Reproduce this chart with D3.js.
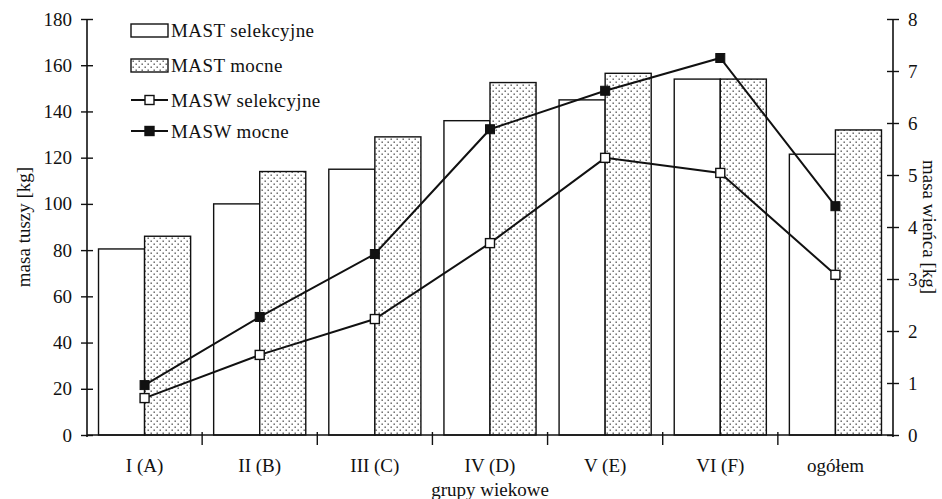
<!DOCTYPE html>
<html><head><meta charset="utf-8">
<script src="https://cdn.jsdelivr.net/npm/d3@7"></script>
<style>
body{margin:0;background:#fff;}
text{font-family:"Liberation Serif","Times New Roman",serif;fill:#111;}
</style></head>
<body>
<svg id="c" width="942" height="499"></svg>
<script>
const categories = ["I (A)","II (B)","III (C)","IV (D)","V (E)","VI (F)","ogółem"];
const mastSelekcyjne = [80.5, 100, 115, 136, 145, 154, 121.5];
const mastMocne = [86, 114, 129, 152.5, 156.5, 154, 132];
const maswSelekcyjne = [0.71, 1.54, 2.23, 3.69, 5.33, 5.04, 3.08];
const maswMocne = [0.96, 2.27, 3.48, 5.88, 6.62, 7.25, 4.40];
const leftTicks = [0,20,40,60,80,100,120,140,160,180];
const rightTicks = [0,1,2,3,4,5,6,7,8];

const svg = d3.select("#c");
const L = 87, R = 893, T = 19, B = 435;
const FS = 19;

const defs = svg.append("defs");
const pat = defs.append("pattern").attr("id","dots").attr("patternUnits","userSpaceOnUse")
  .attr("width",6).attr("height",6);
pat.append("rect").attr("width",6).attr("height",6).attr("fill","#fff");
pat.append("rect").attr("x",0.5).attr("y",0.5).attr("width",1.4).attr("height",1.4).attr("fill","#555");
pat.append("rect").attr("x",3.5).attr("y",3.5).attr("width",1.4).attr("height",1.4).attr("fill","#555");

const x = d3.scaleBand().domain(categories).range([L,R]).padding(0);
const x1 = d3.scaleBand().domain(["sel","moc"]).range([0,x.bandwidth()]).paddingInner(0).paddingOuter(0.25);
const yL = d3.scaleLinear().domain([0,180]).range([B,T]);
const yR = d3.scaleLinear().domain([0,8]).range([B,T]);

// bars
const g = svg.append("g");
categories.forEach((c,i)=>{
  g.append("rect").attr("x",x(c)+x1("sel")).attr("y",yL(mastSelekcyjne[i]))
   .attr("width",x1.bandwidth()).attr("height",B-yL(mastSelekcyjne[i]))
   .attr("fill","#fff").attr("stroke","#111").attr("stroke-width",1.4);
  g.append("rect").attr("x",x(c)+x1("moc")).attr("y",yL(mastMocne[i]))
   .attr("width",x1.bandwidth()).attr("height",B-yL(mastMocne[i]))
   .attr("fill","url(#dots)").attr("stroke","#111").attr("stroke-width",1.4);
});

// left axis
const axL = svg.append("g").attr("transform",`translate(${L},0)`)
  .call(d3.axisLeft(yL).tickValues(leftTicks).tickSize(6).tickPadding(9).tickFormat(d3.format("d")));
axL.attr("font-family",null).attr("font-size",null);
axL.select(".domain").remove();
axL.selectAll(".tick line").attr("x1",-6).attr("x2",6).attr("stroke","#111").attr("stroke-width",1.4);
axL.selectAll(".tick text").style("font-size",FS+"px");
svg.append("line").attr("x1",L).attr("x2",L).attr("y1",T).attr("y2",B+2).attr("stroke","#111").attr("stroke-width",1.6);

// right axis
const axR = svg.append("g").attr("transform",`translate(${R},0)`)
  .call(d3.axisRight(yR).tickValues(rightTicks).tickSize(6).tickPadding(9).tickFormat(d3.format("d")));
axR.attr("font-family",null).attr("font-size",null);
axR.select(".domain").remove();
axR.selectAll(".tick line").attr("x1",-6).attr("x2",6).attr("stroke","#111").attr("stroke-width",1.4);
axR.selectAll(".tick text").style("font-size",FS+"px");
svg.append("line").attr("x1",R).attr("x2",R).attr("y1",T).attr("y2",B+2).attr("stroke","#111").attr("stroke-width",1.6);

// bottom axis
svg.append("line").attr("x1",L).attr("x2",R).attr("y1",B).attr("y2",B).attr("stroke","#111").attr("stroke-width",1.6);
categories.slice(1).forEach(c=>{
  svg.append("line").attr("x1",x(c)).attr("x2",x(c)).attr("y1",B-3).attr("y2",B+10).attr("stroke","#111").attr("stroke-width",1.4);
});
categories.forEach(c=>{
  svg.append("text").attr("x",x(c)+x.bandwidth()/2).attr("y",472).attr("text-anchor","middle")
    .style("font-size",FS+"px").text(c);
});

// lines
const cx = c => x(c)+x.bandwidth()/2;
const line = (ys)=> d3.line().x((d,i)=>cx(categories[i])).y(d=>ys(d));
svg.append("path").datum(maswSelekcyjne).attr("d",line(yR)).attr("fill","none").attr("stroke","#111").attr("stroke-width",2);
svg.append("path").datum(maswMocne).attr("d",line(yR)).attr("fill","none").attr("stroke","#111").attr("stroke-width",2);
const ms = 9;
maswSelekcyjne.forEach((v,i)=>{
  svg.append("rect").attr("x",cx(categories[i])-ms/2).attr("y",yR(v)-ms/2).attr("width",ms).attr("height",ms)
   .attr("fill","#fff").attr("stroke","#111").attr("stroke-width",1.4);
});
maswMocne.forEach((v,i)=>{
  svg.append("rect").attr("x",cx(categories[i])-ms/2).attr("y",yR(v)-ms/2).attr("width",ms).attr("height",ms)
   .attr("fill","#111").attr("stroke","#111").attr("stroke-width",1);
});

// axis titles
svg.append("text").attr("transform",`translate(23,${(T+B)/2}) rotate(-90)`).attr("text-anchor","middle")
  .attr("dy","0.35em").style("font-size",FS+"px").text("masa tuszy [kg]");
svg.append("text").attr("transform",`translate(930,${(T+B)/2}) rotate(90)`).attr("text-anchor","middle")
  .attr("dy","0.35em").style("font-size",FS+"px").text("masa wieńca [kg]");
svg.append("text").attr("x",(L+R)/2).attr("y",496).attr("text-anchor","middle")
  .style("font-size",FS+"px").text("grupy wiekowe");

// legend
const legend = [
  {label:"MAST selekcyjne", type:"bar", fill:"#fff", y:30},
  {label:"MAST mocne", type:"bar", fill:"url(#dots)", y:65},
  {label:"MASW selekcyjne", type:"line", fill:"#fff", y:100},
  {label:"MASW mocne", type:"line", fill:"#111", y:131}
];
const lg = svg.append("g");
legend.forEach(d=>{
  if(d.type==="bar"){
    lg.append("rect").attr("x",131).attr("y",d.y-6).attr("width",37).attr("height",13)
      .attr("fill",d.fill).attr("stroke","#111").attr("stroke-width",1.4);
  } else {
    lg.append("line").attr("x1",131).attr("x2",168).attr("y1",d.y).attr("y2",d.y).attr("stroke","#111").attr("stroke-width",2);
    lg.append("rect").attr("x",149.5-4.5).attr("y",d.y-4.5).attr("width",9).attr("height",9)
      .attr("fill",d.fill).attr("stroke","#111").attr("stroke-width",1.4);
  }
  lg.append("text").attr("x",171).attr("y",d.y).attr("dy","0.35em").style("font-size",FS+"px")
    .style("letter-spacing","0.4px").text(d.label);
});
</script>
</body></html>
